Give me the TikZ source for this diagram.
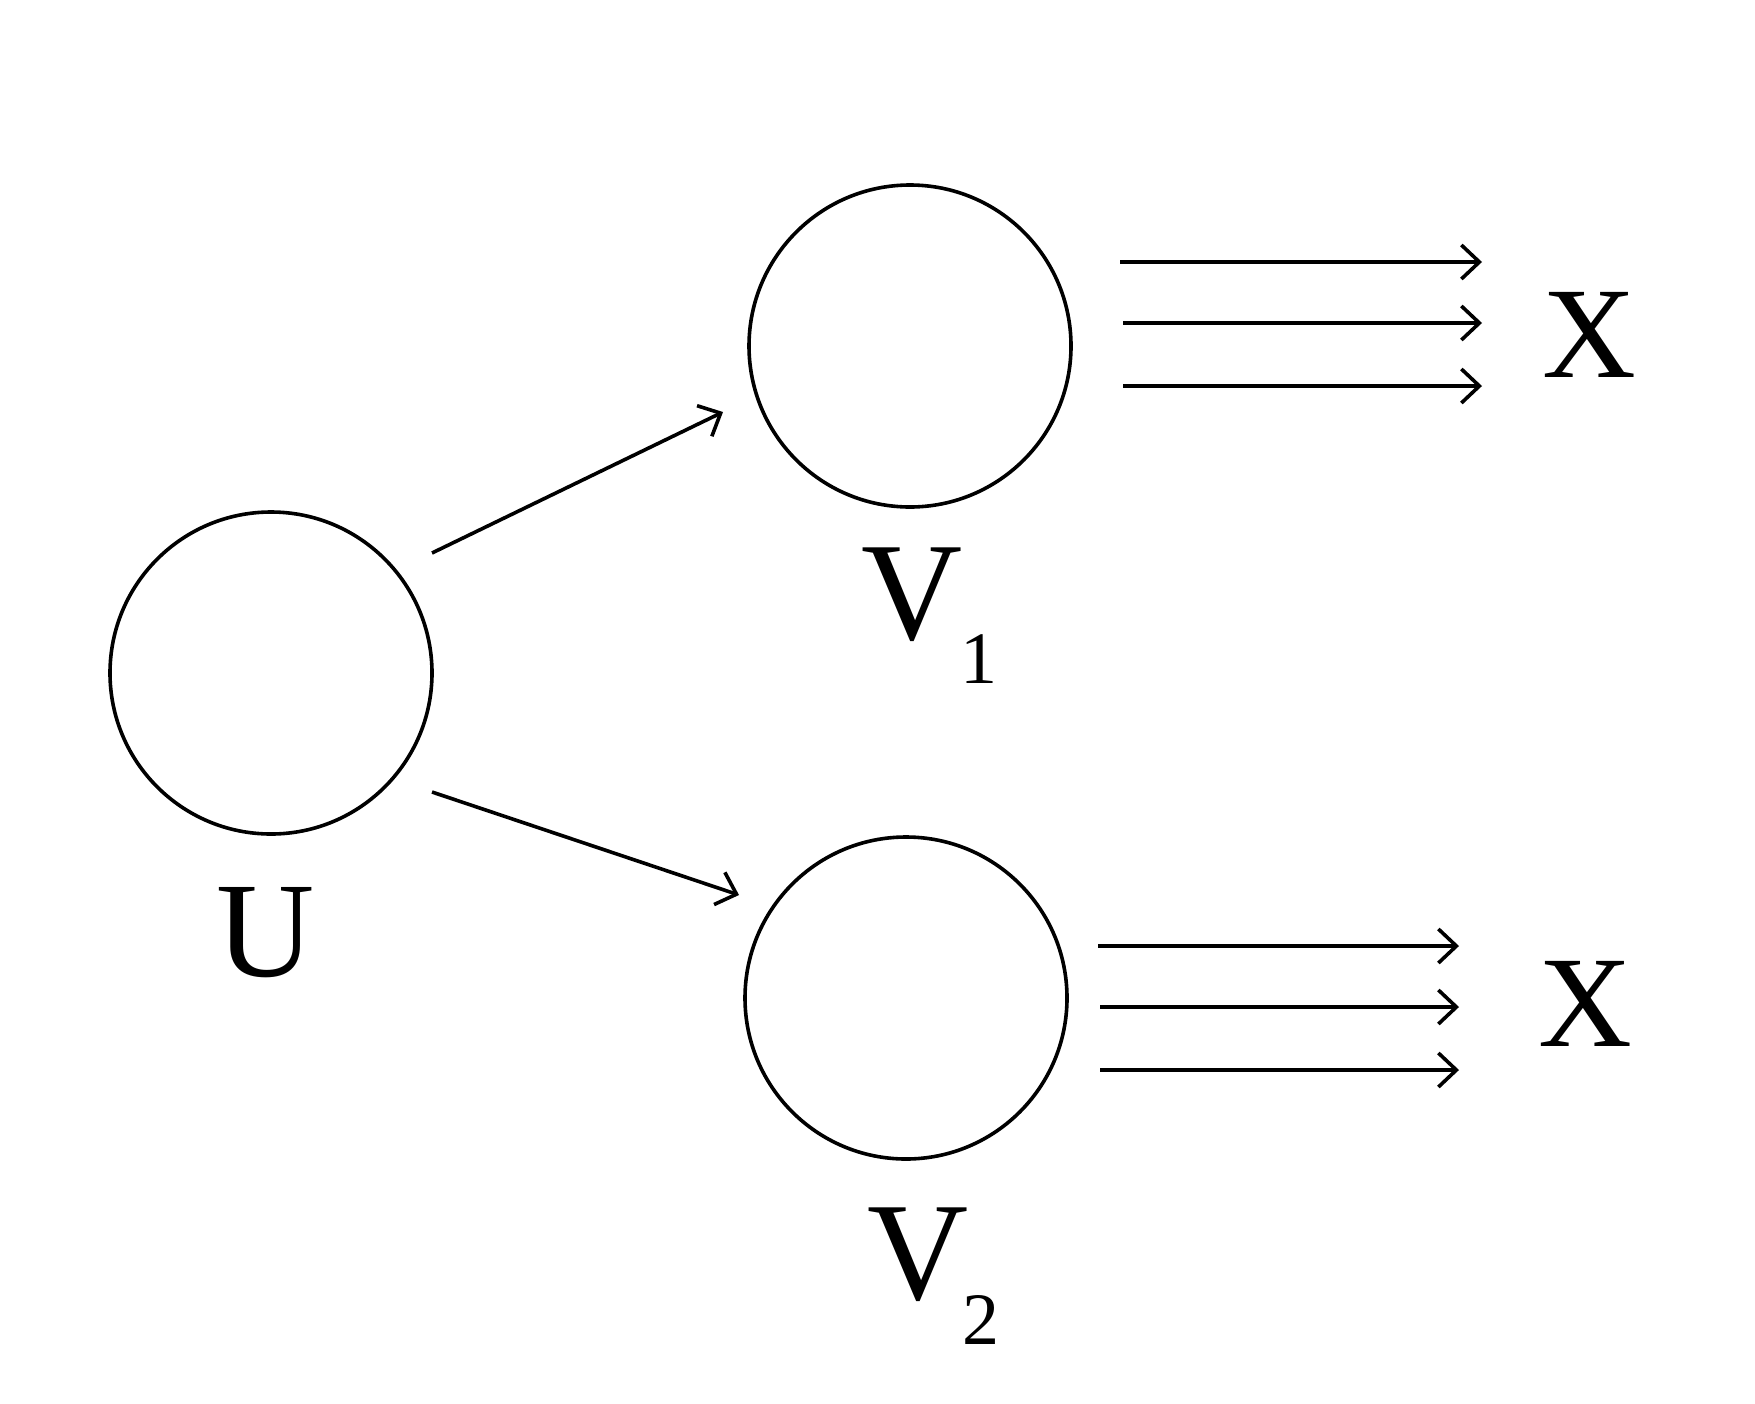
\documentclass[tikz,border=0pt]{standalone}
\usepackage{fontspec}
\setmainfont{Liberation Serif}
\usetikzlibrary{arrows.meta}
\begin{document}
\begin{tikzpicture}[x=0.5pt,y=-0.5pt,
  unit/.style={circle,draw,line width=1.8pt,minimum size=161pt,inner sep=0pt},
  lab/.style={inner sep=0pt,font=\fontsize{68}{70}\selectfont},
  sub/.style={inner sep=0pt,font=\fontsize{37}{40}\selectfont},
  arr/.style={line width=1.8pt,-{Straight Barb[length=9pt,width=17pt,line width=1.8pt]}}]
\useasboundingbox (0,0) rectangle (1755,1403);
\node[unit] (U) at (271,673) {};
\node[unit] (V1) at (910,346) {};
\node[unit] (V2) at (906,998) {};
\node[lab] (Ul) at (266,933) {U};
\node[lab,font=\fontsize{70}{72}\selectfont] (V1l) at (912,595) {V};
\node[sub] (V1s) at (979,659) {1};
\node[lab,font=\fontsize{70}{72}\selectfont] (V2l) at (918,1255) {V};
\node[sub] (V2s) at (981,1320) {2};
\node[lab,font=\fontsize{65}{67}\selectfont] (X1) at (1589,335) {X};
\node[lab,font=\fontsize{65}{67}\selectfont] (X2) at (1585,1004) {X};
\coordinate (a1) at (432,553); \coordinate (b1) at (723,412);
\coordinate (a2) at (432,792); \coordinate (b2) at (739,895);
\draw[arr] (a1) -- (b1);
\draw[arr] (a2) -- (b2);
\foreach \y/\xs in {262/1120,323/1123,386/1123}{
  \coordinate (s\y) at (\xs,\y); \coordinate (e\y) at (1482,\y);
  \draw[arr] (s\y) -- (e\y);}
\foreach \y/\xs in {946/1098,1007/1100,1070/1100}{
  \coordinate (s\y) at (\xs,\y); \coordinate (e\y) at (1459,\y);
  \draw[arr] (s\y) -- (e\y);}
\end{tikzpicture}
\end{document}
